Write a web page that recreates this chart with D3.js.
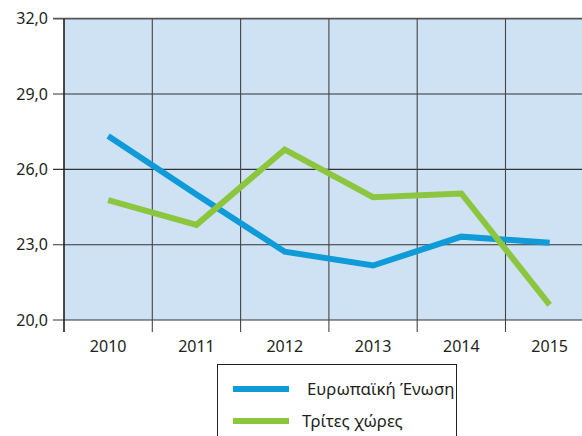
<!DOCTYPE html>
<html>
<head>
<meta charset="utf-8">
<script src="https://cdn.jsdelivr.net/npm/d3@7"></script>
<style>
  body { margin: 0; background: #fff; }
  svg { display: block; }
  text { font-family: "Noto Sans", "Open Sans", sans-serif; fill: #231f20; }
</style>
</head>
<body>
<svg id="chart" width="582" height="436"></svg>
<script>
const years = ["2010", "2011", "2012", "2013", "2014", "2015"];
const euValues = [27.33, 25.0, 22.72, 22.17, 23.32, 23.08];
const thirdValues = [24.77, 23.79, 26.79, 24.89, 25.04, 20.6];
const yTicks = [20, 23, 26, 29, 32];
const seriesNames = ["Ευρωπαϊκή Ένωση", "Τρίτες χώρες"];
const seriesColors = ["#0f9ad8", "#8cc63e"];

(function () {
const svg = d3.select("#chart");
const plotLeft = 64, plotTop = 18.7, plotBottom = 320, bandW = 88.3;
const x = d3.scaleBand().domain(years).range([plotLeft, plotLeft + bandW * years.length]).padding(0);
const y = d3.scaleLinear().domain([20, 32]).range([plotBottom, plotTop]);

// plot background
svg.append("rect")
  .attr("x", plotLeft).attr("y", plotTop)
  .attr("width", bandW * years.length).attr("height", plotBottom - plotTop)
  .attr("fill", "#cfe2f3");

// horizontal grid
svg.append("g").selectAll("line").data(yTicks).join("line")
  .attr("x1", plotLeft - 11).attr("x2", 600)
  .attr("y1", d => y(d)).attr("y2", d => y(d))
  .attr("stroke", d => d === 32 ? "#555" : "#333")
  .attr("stroke-width", d => d === 32 ? 1.8 : 1.1);

// vertical grid + x ticks
svg.append("g").selectAll("line").data(years).join("line")
  .attr("x1", d => x(d)).attr("x2", d => x(d))
  .attr("y1", plotTop).attr("y2", plotBottom + 12)
  .attr("stroke", (d, i) => i === 0 ? "#231f20" : "#444")
  .attr("stroke-width", (d, i) => i === 0 ? 1.6 : 1.1);

// y axis labels
svg.append("g").selectAll("text").data(yTicks).join("text")
  .attr("x", 48).attr("y", d => y(d))
  .attr("dy", "0.36em")
  .attr("text-anchor", "end")
  .attr("font-size", 16)
  .text(d => d3.format(".1f")(d).replace(".", ","));

// x labels
svg.append("g").selectAll("text").data(years).join("text")
  .attr("x", d => x(d) + x.bandwidth() / 2).attr("y", 352)
  .attr("text-anchor", "middle")
  .attr("font-size", 16)
  .text(d => d);

// lines
const line = d3.line()
  .x((d, i) => x(years[i]) + x.bandwidth() / 2)
  .y(d => y(d));

[euValues, thirdValues].forEach((vals, k) => {
  svg.append("path")
    .datum(vals)
    .attr("d", line)
    .attr("fill", "none")
    .attr("stroke", seriesColors[k])
    .attr("stroke-width", 6)
    .attr("stroke-linejoin", "miter");
});

// legend
svg.append("rect")
  .attr("x", 217.5).attr("y", 364.5)
  .attr("width", 239).attr("height", 90)
  .attr("fill", "#fff").attr("stroke", "#231f20").attr("stroke-width", 1);

const legY = [389, 421];
const legTextX = [307, 302];
seriesNames.forEach((name, k) => {
  svg.append("line")
    .attr("x1", 233).attr("x2", 289)
    .attr("y1", legY[k]).attr("y2", legY[k])
    .attr("stroke", seriesColors[k]).attr("stroke-width", 6);
  svg.append("text")
    .attr("x", legTextX[k]).attr("y", legY[k])
    .attr("dy", "0.36em")
    .attr("font-size", 16.8)
    .text(name);
});
})();
</script>
</body>
</html>
